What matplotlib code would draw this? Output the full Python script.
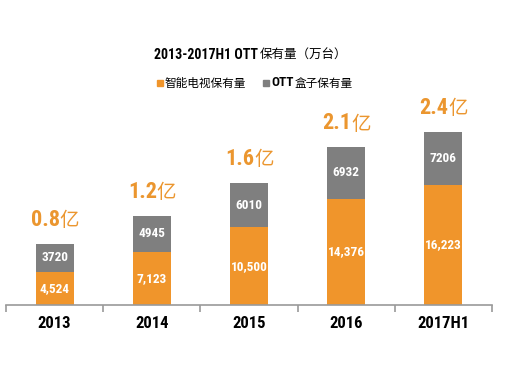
import matplotlib
matplotlib.use("Agg")
import matplotlib.pyplot as plt
from matplotlib.patches import Rectangle
from matplotlib import font_manager as fm

categories = ["2013", "2014", "2015", "2016", "2017H1"]
tv_values = [4524, 7123, 10500, 14376, 16223]
box_values = [3720, 4945, 6010, 6932, 7206]
tv_labels = ["4,524", "7,123", "10,500", "14,376", "16,223"]
box_labels = ["3720", "4945", "6010", "6932", "7206"]
total_labels = ["0.8", "1.2", "1.6", "2.1", "2.4"]

ORANGE = "#F0952B"
GREY = "#7F7F7F"
LABEL_ORANGE = "#EB962F"
CJK = ["Noto Sans CJK SC", "DejaVu Sans"]

names = {f.name for f in fm.fontManager.ttflist}
cond = None
for cand in ["Liberation Sans Narrow", "DejaVu Sans Condensed", "Roboto Condensed", "Open Sans Condensed"]:
    if cand in names:
        cond = cand
        break
NUM = dict(family=[cond or "DejaVu Sans"], fontstretch="condensed")

W, H = 531, 365
fig = plt.figure(figsize=(W / 100, H / 100), dpi=100)
fig.patch.set_facecolor("white")

px_per_unit = 0.0074
ymax = 30000
ax = fig.add_axes([6 / W, 60 / H, 486 / W, ymax * px_per_unit / H])
ax.set_xlim(-0.5, len(categories) - 0.5)
ax.set_ylim(0, ymax)

x = list(range(len(categories)))
bw = 0.39
ax.bar(x, tv_values, width=bw, color=ORANGE, zorder=2)
ax.bar(x, box_values, width=bw, bottom=tv_values, color=GREY, zorder=2)

for i in x:
    ax.text(i, tv_values[i] / 2, tv_labels[i], ha="center", va="center",
            color="white", fontsize=9.5, fontweight="bold", **NUM)
    ax.text(i, tv_values[i] + box_values[i] / 2, box_labels[i], ha="center",
            va="center", color="white", fontsize=9.5, fontweight="bold", **NUM)
    top = tv_values[i] + box_values[i]
    ax.annotate(total_labels[i], (i, top), xytext=(5, 24), textcoords="offset pixels",
                ha="right", va="center", color=LABEL_ORANGE, fontsize=16,
                fontweight="bold", **NUM)
    ax.annotate("亿", (i, top), xytext=(5, 23), textcoords="offset pixels",
                ha="left", va="center", color=LABEL_ORANGE, fontsize=14,
                family=CJK, fontweight="light")

for s in ["top", "right", "left"]:
    ax.spines[s].set_visible(False)
ax.spines["bottom"].set_color("#9A9A9A")
ax.spines["bottom"].set_linewidth(1.2)
ax.set_yticks([])
ax.set_xticks(x)
ax.set_xticklabels(categories, fontsize=12, fontweight="bold", **NUM)
ax.tick_params(axis="x", which="major", length=0, pad=8)
ax.set_xticks([i - 0.5 for i in range(len(categories) + 1)], minor=True)
ax.tick_params(axis="x", which="minor", length=5, direction="out", color="#9A9A9A", width=1.2)

fig.canvas.draw()
r = fig.canvas.get_renderer()
t_a = fig.text(0, 0, "2013-2017H1 OTT", fontsize=10, fontweight="bold", **NUM)
t_b = fig.text(0, 0, "保有量（万台）", fontsize=9, family=CJK)
wa = t_a.get_window_extent(r).width
wb = t_b.get_window_extent(r).width
cx, cy = 250, H - 55
x0 = cx - (wa + wb) / 2
t_a.set_position((x0 / W, cy / H)); t_a.set_va("center")
t_b.set_position(((x0 + wa + 1) / W, cy / H)); t_b.set_va("center")

ly = H - 83
sq = 6
fig.patches.append(Rectangle((157 / W, (ly - sq / 2) / H), sq / W, sq / H,
                             transform=fig.transFigure, color=ORANGE, figure=fig))
fig.text(165 / W, ly / H, "智能电视保有量", fontsize=8.4, family=CJK, va="center")
fig.patches.append(Rectangle((263 / W, (ly - sq / 2) / H), sq / W, sq / H,
                             transform=fig.transFigure, color=GREY, figure=fig))
tl = fig.text(271 / W, ly / H, "OTT", fontsize=9.5, fontweight="bold", va="center", **NUM)
wl = tl.get_window_extent(r).width
fig.text((271 + wl + 1) / W, ly / H, "盒子保有量", fontsize=8.4, family=CJK, va="center")

fig.savefig("out.png", dpi=100)
